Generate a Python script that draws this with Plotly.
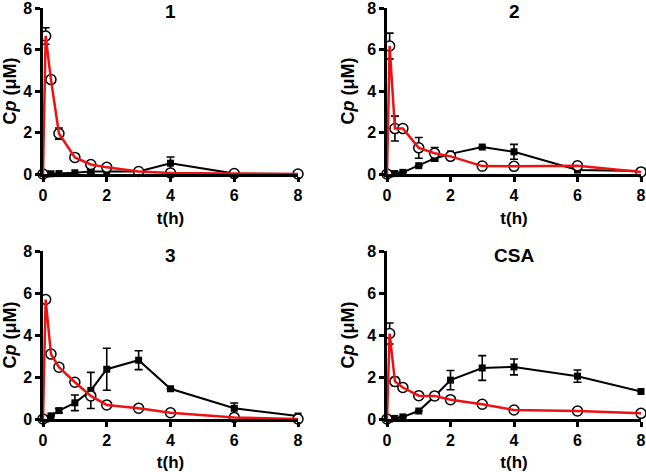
import plotly.graph_objects as go

# Time points (h)
t = [0, 0.083, 0.25, 0.5, 1, 1.5, 2, 3, 4, 6, 8]

panels = ["1", "2", "3", "CSA"]

# Red series (open circles)
red_1 = [0, 6.65, 4.55, 1.95, 0.8, 0.46, 0.32, 0.12, 0.05, 0.02, 0.0]
red_1_err = [None, 0.4, None, 0.27, None, None, None, None, None, None, None]
red_2 = [0, 6.17, 2.19, 2.19, 1.26, 1.0, 0.85, 0.38, 0.37, 0.4, 0.1]
red_2_err = [None, 0.62, 0.6, None, 0.5, 0.28, None, None, None, None, None]
red_3 = [0, 5.69, 3.09, 2.47, 1.75, 1.1, 0.67, 0.51, 0.3, 0.07, 0.0]
red_3_err = [None, None, None, 0.15, None, None, None, None, None, None, None]
red_4 = [0, 4.07, 1.79, 1.5, 1.11, 1.1, 0.92, 0.7, 0.43, 0.38, 0.27]
red_4_err = [None, 0.5, 0.2, 0.15, None, None, 0.1, None, 0.1, None, None]

# Black series (filled squares)
blk_1 = [0, 0, 0.01, 0.02, 0.06, 0.12, 0.12, 0.12, 0.52, 0.02, 0.0]
blk_1_err = [None, None, None, None, None, 0.1, None, None, 0.3, None, None]
blk_2 = [0, 0, 0.02, 0.08, 0.4, 0.75, 0.97, 1.3, 1.07, 0.19, 0.14]
blk_2_err = [None, None, None, None, None, 0.12, None, None, 0.36, None, None]
blk_3 = [0, 0, 0.15, 0.4, 0.77, 1.36, 2.37, 2.8, 1.44, 0.51, 0.14]
blk_3_err = [None, None, None, 0.1, 0.37, 0.86, 1.0, 0.45, None, 0.25, None]
blk_4 = [0, 0, 0.03, 0.1, 0.38, 1.08, 1.85, 2.43, 2.48, 2.04, 1.31]
blk_4_err = [None, None, None, None, None, 0.15, 0.46, 0.59, 0.38, 0.29, None]

reds = [(red_1, red_1_err), (red_2, red_2_err), (red_3, red_3_err), (red_4, red_4_err)]
blks = [(blk_1, blk_1_err), (blk_2, blk_2_err), (blk_3, blk_3_err), (blk_4, blk_4_err)]

xdom = [[43 / 646, 298 / 646], [387 / 646, 641 / 646]]
ydom = [[1 - 174 / 472, 1 - 8 / 472], [1 - 419 / 472, 1 - 251 / 472]]

FONT = "Liberation Sans, Arial, sans-serif"

fig = go.Figure()

for i, name in enumerate(panels):
    r, c = divmod(i, 2)
    xa = "x" if i == 0 else f"x{i+1}"
    ya = "y" if i == 0 else f"y{i+1}"
    by, be = blks[i]
    ry, re_ = reds[i]
    fig.add_trace(go.Scatter(
        x=t, y=by, xaxis=xa, yaxis=ya, mode="lines+markers",
        line=dict(color="black", width=2),
        marker=dict(symbol="square", size=7, color="black"),
        error_y=dict(type="data", array=be, color="black", thickness=1.6, width=4),
        cliponaxis=False, showlegend=False))
    fig.add_trace(go.Scatter(
        x=t, y=ry, xaxis=xa, yaxis=ya, mode="markers",
        marker=dict(symbol="circle", size=10, color="white",
                    line=dict(color="black", width=1.5)),
        error_y=dict(type="data", array=re_, color="black", thickness=1.6, width=4),
        cliponaxis=False, showlegend=False))
    fig.add_trace(go.Scatter(
        x=t, y=ry, xaxis=xa, yaxis=ya, mode="lines",
        line=dict(color="#ee1111", width=2.5),
        cliponaxis=False, showlegend=False))

    axis_common = dict(
        range=[0, 8], tickvals=[0, 2, 4, 6, 8], showgrid=False, zeroline=False,
        showline=True, linecolor="black", linewidth=2.5, automargin=False,
        ticklabeloverflow="allow",
        ticks="outside", ticklen=5, tickwidth=2.5, tickcolor="black",
        tickfont=dict(family=FONT, size=16, color="black", weight="bold"),
    )
    xkey = "xaxis" if i == 0 else f"xaxis{i+1}"
    ykey = "yaxis" if i == 0 else f"yaxis{i+1}"
    fig.update_layout({
        xkey: dict(axis_common, domain=xdom[c], anchor=ya,
                   title=dict(text="t(h)", standoff=10,
                              font=dict(family=FONT, size=17, color="black", weight="bold"))),
        ykey: dict(axis_common, domain=ydom[r], anchor=xa,
                   title=dict(text="C<i>p</i> (μM)", standoff=8,
                              font=dict(family=FONT, size=18, color="black", weight="bold"))),
    })
    fig.add_annotation(
        x=sum(xdom[c]) / 2, y=ydom[r][1] - 4 / 472, xref="paper", yref="paper",
        text=name, showarrow=False, xanchor="center", yanchor="middle",
        font=dict(family=FONT, size=19, color="black", weight="bold"))

fig.update_layout(
    width=646, height=472, margin=dict(l=0, r=0, t=0, b=0),
    paper_bgcolor="white", plot_bgcolor="white",
)

fig.write_html("out.html", config={"displayModeBar": False},
               post_script="document.body.style.margin='0';document.body.style.overflow='hidden';")
